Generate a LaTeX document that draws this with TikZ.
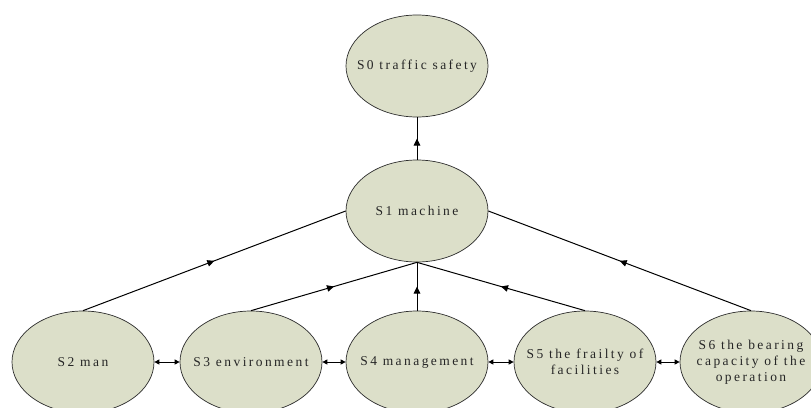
\documentclass[tikz,border=0pt]{standalone}
\usepackage{fontspec}
\setmainfont{Liberation Serif}[LetterSpace=18]
\usetikzlibrary{arrows.meta,decorations.markings,shapes.geometric}
\definecolor{ellfill}{RGB}{220,223,201}
\definecolor{edgecol}{RGB}{45,45,45}
\begin{document}
\begin{tikzpicture}[x=1pt,y=-1pt,
  ell/.style={ellipse, draw=edgecol, fill=ellfill, line width=0.7pt,
    minimum width=142pt, minimum height=102pt, inner sep=0pt},
  lbl/.style={align=center, font=\fontsize{13.5}{16}\selectfont, text=black!85, inner sep=0pt},
  link/.style={draw=black, line width=1pt, postaction={decorate},
    decoration={markings, mark=at position 0.5 with {\arrow{Triangle[length=7pt,width=6.5pt]}}}},
  both/.style={draw=black, line width=1pt,
    {Triangle[length=5pt,width=5pt]}-{Triangle[length=5pt,width=5pt]}}
]
\useasboundingbox (0,0) rectangle (811,407);
\clip (0,0) rectangle (811,407);
\fill[white] (0,0) rectangle (811,407);

\node[ell] (s0) at (417,66) {};
\node[ell] (s1) at (417,211) {};
\node[ell] (s2) at (83,362) {};
\node[ell] (s3) at (251,362) {};
\node[ell] (s4) at (417,362) {};
\node[ell] (s5) at (585,362) {};
\node[ell] (s6) at (751,362) {};

\node[lbl] (t0) at (s0) {S0 traffic safety};
\node[lbl] (t1) at (s1) {S1 machine};
\node[lbl] (t2) at (s2) {S2 man};
\node[lbl] (t3) at (s3) {S3 environment};
\node[lbl] (t4) at (s4) {S4 management};
\node[lbl] (t5) at (s5) {S5 the frailty of\\facilities};
\node[lbl] (t6) at (s6) {S6 the bearing\\capacity of the\\operation};

\draw[link] (s1.north) -- (s0.south);
\draw[link] (s2.north) -- (s1.west);
\draw[link] (s3.north) -- (s1.south);
\draw[link] (s4.north) -- (s1.south);
\draw[link] (s5.north) -- (s1.south);
\draw[link] (s6.north) -- (s1.east);

\draw[both] (s2.east) -- (s3.west);
\draw[both] (s3.east) -- (s4.west);
\draw[both] (s4.east) -- (s5.west);
\draw[both] (s5.east) -- (s6.west);
\end{tikzpicture}
\end{document}
